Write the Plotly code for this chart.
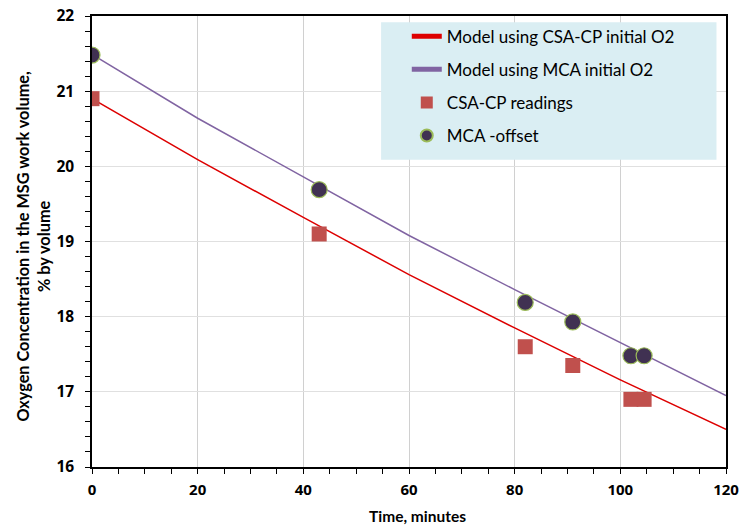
import plotly.graph_objects as go

# Model curves
model_time = [0, 20, 40, 60, 80, 100, 120]
model_csa = [20.90, 20.09, 19.32, 18.56, 17.85, 17.16, 16.50]
model_mca = [21.49, 20.64, 19.86, 19.08, 18.36, 17.65, 16.95]

# Measurements
meas_time = [0, 43, 82, 91, 102, 104.5]
csa_readings = [20.9, 19.1, 17.6, 17.35, 16.9, 16.9]
mca_offset = [21.48, 19.69, 18.19, 17.93, 17.48, 17.48]

# Tick labels
x_ticks = [0, 20, 40, 60, 80, 100, 120]
y_ticks = [16, 17, 18, 19, 20, 21, 22]

FONT = "Lato"
TICKFONT = "Open Sans"

fig = go.Figure()
fig.add_trace(go.Scatter(x=model_time, y=model_csa, mode="lines",
                         name="Model using CSA-CP initial O2",
                         line=dict(color="#DD0000", width=1.5),
                         legendgroup="a"))
fig.add_trace(go.Scatter(x=model_time, y=model_mca, mode="lines",
                         name="Model using MCA initial O2",
                         line=dict(color="#8064A2", width=1.5),
                         legendgroup="b"))
fig.add_trace(go.Scatter(x=meas_time, y=csa_readings, mode="markers",
                         name="CSA-CP readings",
                         marker=dict(symbol="square", size=15, color="#C0504D"),
                         legendgroup="c"))
fig.add_trace(go.Scatter(x=meas_time, y=mca_offset, mode="markers",
                         name="MCA -offset",
                         marker=dict(symbol="circle", size=16, color="#403152",
                                     line=dict(color="#9BBB59", width=1.2)),
                         legendgroup="d"))

fig.add_shape(type="rect", xref="paper", yref="paper",
              x0=0.456, x1=0.985, y0=0.681, y1=0.986,
              fillcolor="#DAEEF3", line=dict(width=0), layer="above")

# Axis titles as annotations for precise placement
fig.add_annotation(text="<b>Oxygen Concentration in the MSG work volume,<br>% by volume</b>",
                   xref="paper", yref="paper", x=-0.0925, y=0.4895,
                   xanchor="center", yanchor="middle", textangle=-90, showarrow=False,
                   font=dict(family=FONT, size=16.3, color="black"))
fig.add_annotation(text="<b>Time, minutes</b>",
                   xref="paper", yref="paper", x=0.514, y=-0.109,
                   xanchor="center", yanchor="middle", showarrow=False,
                   font=dict(family=FONT, size=15.5, color="black"))

fig.update_layout(
    width=747, height=527,
    margin=dict(l=92, r=21, t=16, b=60, autoexpand=False),
    paper_bgcolor="white", plot_bgcolor="white",
    font=dict(family=FONT, size=15, color="black"),
    showlegend=True,
    legend=dict(x=0.4965, y=0.994, xanchor="left", yanchor="top",
                bgcolor="rgba(0,0,0,0)", font=dict(family=FONT, size=17, color="black"),
                tracegroupgap=8, itemsizing="constant"),
    xaxis=dict(range=[0, 120], tickvals=x_ticks, ticktext=[str(v) for v in x_ticks],
               automargin=False,
               showgrid=True, gridcolor="#D0D0D0", gridwidth=1,
               showline=True, linecolor="black", linewidth=1.5, mirror=True,
               ticks="outside", ticklen=5, tickcolor="black", ticklabelstandoff=3,
               minor=dict(dtick=5, ticks="outside", ticklen=5, tickcolor="black", showgrid=False),
               tickfont=dict(family=TICKFONT, size=15, color="black", weight=700),
               zeroline=False),
    yaxis=dict(range=[16, 22], tickvals=y_ticks, ticktext=[str(v) for v in y_ticks],
               automargin=False,
               showgrid=True, gridcolor="#E0E0E0", gridwidth=1,
               showline=True, linecolor="black", linewidth=1.5, mirror=True,
               ticks="outside", ticklen=5, tickcolor="black", ticklabelstandoff=8,
               minor=dict(dtick=0.2, ticks="outside", ticklen=5, tickcolor="black", showgrid=False),
               tickfont=dict(family=TICKFONT, size=15.5, color="black", weight=700),
               zeroline=False),
)

fig.write_html("out.html")
